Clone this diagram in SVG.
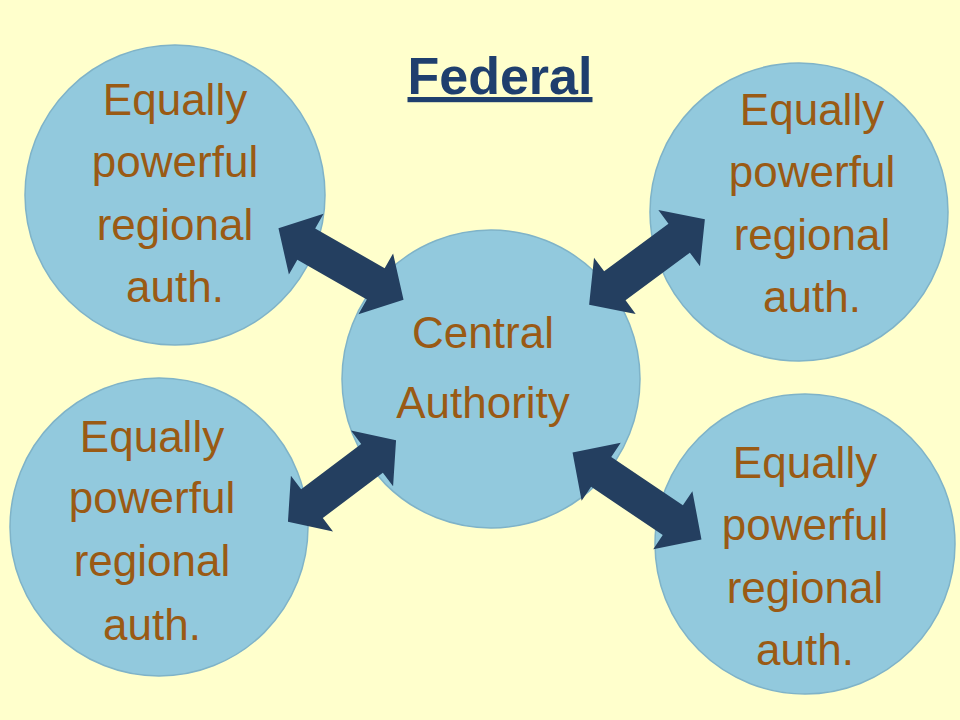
<svg xmlns="http://www.w3.org/2000/svg" width="960" height="720" viewBox="0 0 960 720">
<defs>
<style>
.c{fill:#92C9DD;stroke:#7FB3C8;stroke-width:1.5}
.t{font-family:"Liberation Sans",Arial,sans-serif;font-size:44px;fill:#9A5A14;text-anchor:middle}
.a{fill:#243F60}
</style>
<path id="arr" d="M-72,0 L-40,-35 L-40,-18 L40,-18 L40,-35 L72,0 L40,35 L40,18 L-40,18 L-40,35 Z"/>
</defs>
<rect width="960" height="720" fill="#FFFFCC"/>
<text x="500" y="94" font-family="Liberation Sans,Arial,sans-serif" font-size="52" font-weight="bold" fill="#1F3F6E" text-anchor="middle" text-decoration="underline">Federal</text>
<g id="n1"><circle class="c" cx="175" cy="195" r="150"/><text class="t"><tspan x="175" y="115">Equally</tspan><tspan x="175" y="177">powerful</tspan><tspan x="175" y="240">regional</tspan><tspan x="175" y="302">auth.</tspan></text></g>
<g id="n2"><circle class="c" cx="799" cy="212" r="149"/><text class="t"><tspan x="812" y="125">Equally</tspan><tspan x="812" y="187">powerful</tspan><tspan x="812" y="250">regional</tspan><tspan x="812" y="312">auth.</tspan></text></g>
<g id="n3"><circle class="c" cx="159" cy="527" r="149"/><text class="t"><tspan x="152" y="452">Equally</tspan><tspan x="152" y="513">powerful</tspan><tspan x="152" y="576">regional</tspan><tspan x="152" y="640">auth.</tspan></text></g>
<g id="n4"><circle class="c" cx="805" cy="544" r="150"/><text class="t"><tspan x="805" y="478">Equally</tspan><tspan x="805" y="540">powerful</tspan><tspan x="805" y="603">regional</tspan><tspan x="805" y="665">auth.</tspan></text></g>
<g id="center"><circle class="c" cx="491" cy="379" r="149"/><text class="t"><tspan x="483" y="348">Central</tspan><tspan x="483" y="418">Authority</tspan></text></g>
<g id="connectors">
<use href="#arr" class="a" transform="translate(341,264) rotate(29.7)"/>
<use href="#arr" class="a" transform="translate(647,262) rotate(-36.5)"/>
<use href="#arr" class="a" transform="translate(342,481) rotate(-37) scale(0.94,1)"/>
<use href="#arr" class="a" transform="translate(637,496) rotate(34) scale(1.08,1)"/>
</g>
</svg>
